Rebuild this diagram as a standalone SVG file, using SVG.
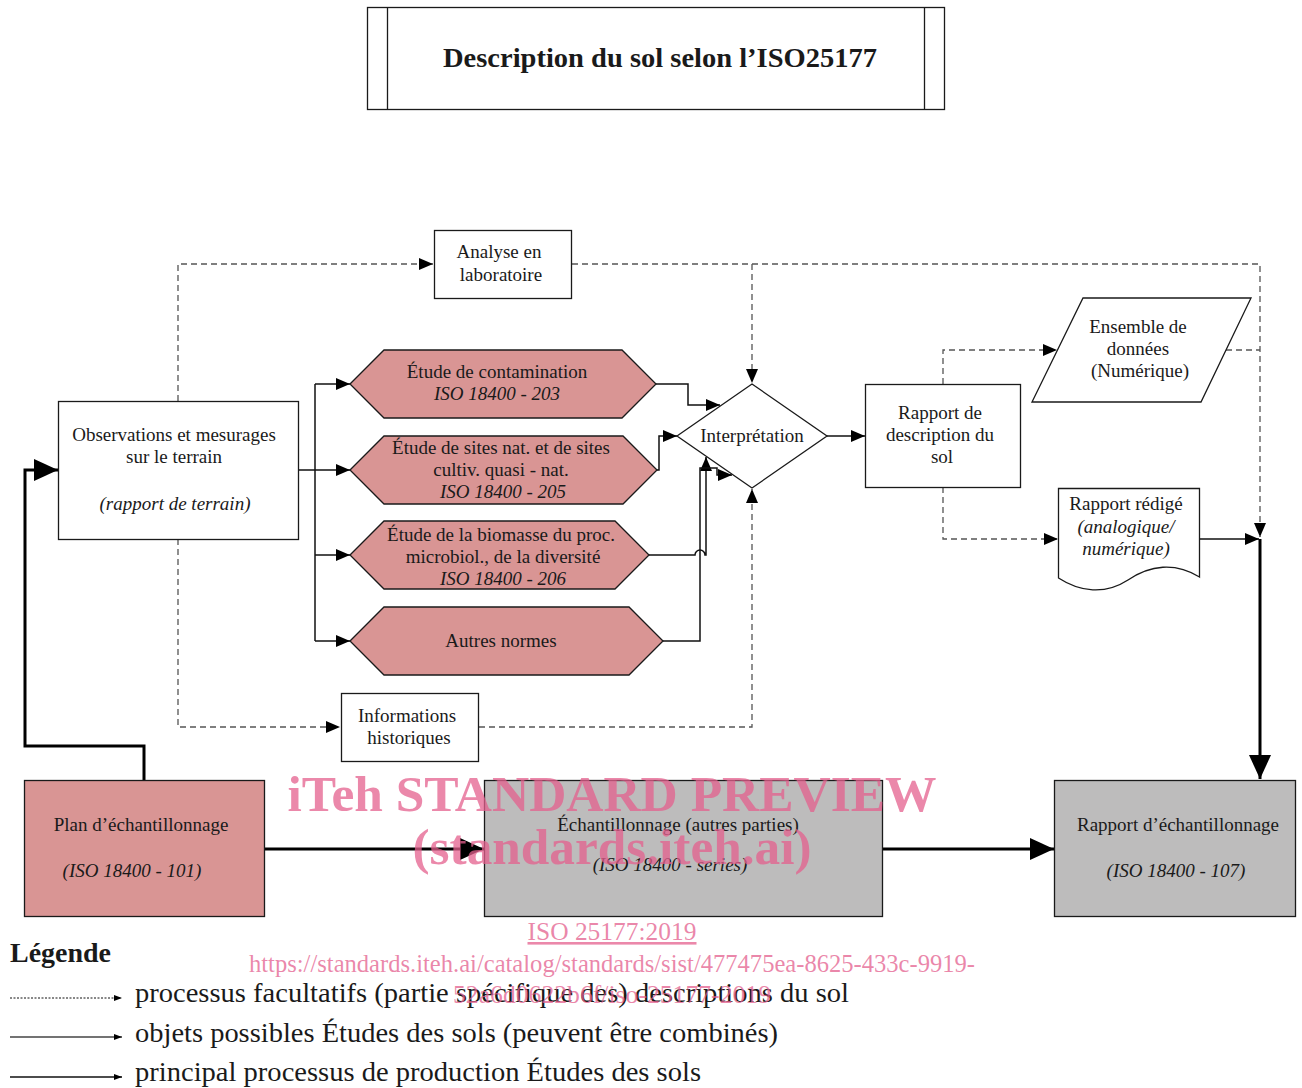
<svg xmlns="http://www.w3.org/2000/svg" width="1302" height="1088" viewBox="0 0 1302 1088">
<defs>
<style>
.t{font-family:"Liberation Serif","Times New Roman",serif;font-size:19px;fill:#1a1a1a;text-anchor:middle}
.i{font-style:italic}
.box{fill:#fff;stroke:#1a1a1a;stroke-width:1.3}
.hex{fill:#d99594;stroke:#1a1a1a;stroke-width:1.3}
.gray{fill:#bdbcbc;stroke:#1a1a1a;stroke-width:1.3}
.c{fill:none;stroke:#111;stroke-width:1.5}
.d{fill:none;stroke:#555;stroke-width:1.3;stroke-dasharray:6 4}
.thick{fill:none;stroke:#000;stroke-width:3}
.wm{font-family:"Liberation Serif","Times New Roman",serif;fill:#e4608e;fill-opacity:.75;text-anchor:middle}
.lg{font-family:"Liberation Serif","Times New Roman",serif;font-size:27px;fill:#1a1a1a}
</style>
<marker id="a" markerUnits="userSpaceOnUse" markerWidth="14" markerHeight="12" refX="14" refY="6" orient="auto"><path d="M0,0L14,6L0,12z" fill="#000"/></marker>
<marker id="ab" markerUnits="userSpaceOnUse" markerWidth="24" markerHeight="22" refX="24" refY="11" orient="auto"><path d="M0,0L24,11L0,22z" fill="#000"/></marker>
<marker id="al" markerUnits="userSpaceOnUse" markerWidth="8" markerHeight="6" refX="8" refY="3" orient="auto"><path d="M0,0L8,3L0,6z" fill="#000"/></marker>
</defs>
<rect width="1302" height="1088" fill="#fff"/>

<g id="title">
<rect class="box" x="367.5" y="7.5" width="577" height="102"/>
<line x1="387.5" y1="7.5" x2="387.5" y2="109.5" stroke="#1a1a1a" stroke-width="1.3"/>
<line x1="924.5" y1="7.5" x2="924.5" y2="109.5" stroke="#1a1a1a" stroke-width="1.3"/>
<text class="t" x="660" y="67" style="font-size:27px;font-weight:bold" textLength="434" lengthAdjust="spacingAndGlyphs">Description du sol selon l’ISO25177</text>
</g>

<g id="connectors">
<path class="d" d="M178,401 V264 H433" marker-end="url(#a)"/>
<path class="d" d="M572,264 H1260 V537" marker-end="url(#a)"/>
<path class="d" d="M752,264 V383" marker-end="url(#a)"/>
<path class="d" d="M178,539 V727 H340" marker-end="url(#a)"/>
<path class="d" d="M479,727 H752 V489" marker-end="url(#a)"/>
<path class="d" d="M943,384 V350 H1057" marker-end="url(#a)"/>
<path class="d" d="M1226,350 H1260"/>
<path class="d" d="M943,487 V539 H1058" marker-end="url(#a)"/>
<path class="c" d="M298,470 H315"/>
<path class="c" d="M315,384 V641"/>
<path class="c" d="M315,384 H350" marker-end="url(#a)"/>
<path class="c" d="M315,470 H350" marker-end="url(#a)"/>
<path class="c" d="M315,555 H350" marker-end="url(#a)"/>
<path class="c" d="M315,641 H350" marker-end="url(#a)"/>
<path class="c" d="M656,384 H688 V405 H720" marker-end="url(#a)"/>
<path class="c" d="M657,470 H659 V436 H677" marker-end="url(#a)"/>
<path class="c" d="M649,555 H695 A5,5 0 0 1 705,555 H706 V457" marker-end="url(#a)"/>
<path class="c" d="M663,641 H700 V468 H717 V475 H732" marker-end="url(#a)"/>
<path class="c" d="M827,436 H865" marker-end="url(#a)"/>
<path class="c" d="M1199,539 H1259" marker-end="url(#a)"/>
<path class="thick" d="M1260,539 V779" marker-end="url(#ab)"/>
<path class="thick" d="M144,780 V746 H25 V470 H58" marker-end="url(#ab)"/>
<path class="thick" d="M264,849 H484" marker-end="url(#ab)"/>
<path class="thick" d="M882,849 H1054" marker-end="url(#ab)"/>
</g>

<g id="analyse">
<rect class="box" x="434.5" y="230.5" width="137" height="68"/>
<text class="t" x="499" y="258">Analyse en</text>
<text class="t" x="501" y="281">laboratoire</text>
</g>

<g id="observations">
<rect class="box" x="58.5" y="401.5" width="240" height="138"/>
<text class="t" x="174" y="441">Observations et mesurages</text>
<text class="t" x="174" y="463">sur le terrain</text>
<text class="t i" x="175" y="510">(rapport de terrain)</text>
</g>

<g id="contamination">
<polygon class="hex" points="350,384 384,350 622,350 656,384 622,418 384,418"/>
<text class="t" x="497" y="378">Étude de contamination</text>
<text class="t i" x="497" y="400">ISO 18400 - 203</text>
</g>

<g id="sites">
<polygon class="hex" points="350,470 384,436 623,436 657,470 623,504 384,504"/>
<text class="t" x="501" y="454">Étude de sites nat. et de sites</text>
<text class="t" x="501" y="476">cultiv. quasi - nat.</text>
<text class="t i" x="503" y="498">ISO 18400 - 205</text>
</g>

<g id="biomasse">
<polygon class="hex" points="350,555 384,521 615,521 649,555 615,589 384,589"/>
<text class="t" x="501" y="541">Étude de la biomasse du proc.</text>
<text class="t" x="503" y="563">microbiol., de la diversité</text>
<text class="t i" x="503" y="585">ISO 18400 - 206</text>
</g>

<g id="autres">
<polygon class="hex" points="350,641 384,607 629,607 663,641 629,675 384,675"/>
<text class="t" x="501" y="647">Autres normes</text>
</g>

<g id="informations">
<rect class="box" x="341.5" y="693.5" width="137" height="68"/>
<text class="t" x="407" y="722">Informations</text>
<text class="t" x="409" y="744">historiques</text>
</g>

<g id="interpretation">
<polygon class="box" points="677,436 752,384 827,436 752,488"/>
<text class="t" x="752" y="442">Interprétation</text>
</g>

<g id="rapport-description">
<rect class="box" x="865.5" y="384.5" width="155" height="103"/>
<text class="t" x="940" y="419">Rapport de</text>
<text class="t" x="940" y="441">description du</text>
<text class="t" x="942" y="463">sol</text>
</g>

<g id="ensemble">
<polygon class="box" points="1083,298 1251,298 1201,402 1032,402"/>
<text class="t" x="1138" y="333">Ensemble de</text>
<text class="t" x="1138" y="355">données</text>
<text class="t" x="1140" y="377">(Numérique)</text>
</g>

<g id="rapport-redige">
<path class="box" d="M1058.5,488.5 H1199.5 V577 C1175,562 1150,565 1128,580 C1105,595 1080,592 1058.5,578 Z"/>
<text class="t" x="1126" y="510">Rapport rédigé</text>
<text class="t i" x="1126" y="533">(analogique/</text>
<text class="t i" x="1126" y="555">numérique)</text>
</g>

<g id="plan">
<rect class="hex" x="24.5" y="780.5" width="240" height="136"/>
<text class="t" x="141" y="831">Plan d’échantillonnage</text>
<text class="t i" x="132" y="877">(ISO 18400 - 101)</text>
</g>

<g id="echantillonnage">
<rect class="gray" x="484.5" y="780.5" width="398" height="136"/>
<text class="t" x="678" y="831">Échantillonnage (autres parties)</text>
<text class="t i" x="670" y="871">(ISO 18400 - series)</text>
</g>

<g id="rapport-echantillonnage">
<rect class="gray" x="1054.5" y="780.5" width="241" height="136"/>
<text class="t" x="1178" y="831">Rapport d’échantillonnage</text>
<text class="t i" x="1176" y="877">(ISO 18400 - 107)</text>
</g>

<g id="legend">
<text class="lg" x="10" y="962" style="font-weight:bold" textLength="101" lengthAdjust="spacingAndGlyphs">Légende</text>
<path d="M10,998 H122" fill="none" stroke="#111" stroke-width="1" stroke-dasharray="2 1.5" marker-end="url(#al)"/>
<text class="lg" x="135" y="1002" textLength="714" lengthAdjust="spacingAndGlyphs">processus facultatifs (partie spécifique des) descriptions du sol</text>
<path d="M10,1037 H122" fill="none" stroke="#444" stroke-width="1.3" marker-end="url(#al)"/>
<text class="lg" x="135" y="1042" textLength="643" lengthAdjust="spacingAndGlyphs">objets possibles Études des sols (peuvent être combinés)</text>
<path d="M10,1077 H122" fill="none" stroke="#111" stroke-width="1.3" marker-end="url(#al)"/>
<text class="lg" x="135" y="1081" textLength="566" lengthAdjust="spacingAndGlyphs">principal processus de production Études des sols</text>
</g>

<g id="watermark">
<text class="wm" x="612" y="811" style="font-size:50px;font-weight:bold" textLength="649" lengthAdjust="spacingAndGlyphs">iTeh STANDARD PREVIEW</text>
<text class="wm" x="612" y="864" style="font-size:50px;font-weight:bold" textLength="399" lengthAdjust="spacingAndGlyphs">(standards.iteh.ai)</text>
<text class="wm" x="612" y="940" style="font-size:26px;text-decoration:underline" textLength="169" lengthAdjust="spacingAndGlyphs">ISO 25177:2019</text>
<text class="wm" x="612" y="972" style="font-size:26px" textLength="726" lengthAdjust="spacingAndGlyphs">https://standards.iteh.ai/catalog/standards/sist/477475ea-8625-433c-9919-</text>
<text class="wm" x="612" y="1003" style="font-size:26px" textLength="318" lengthAdjust="spacingAndGlyphs">52a6d0622b6f/iso-25177-2019</text>
</g>
</svg>
